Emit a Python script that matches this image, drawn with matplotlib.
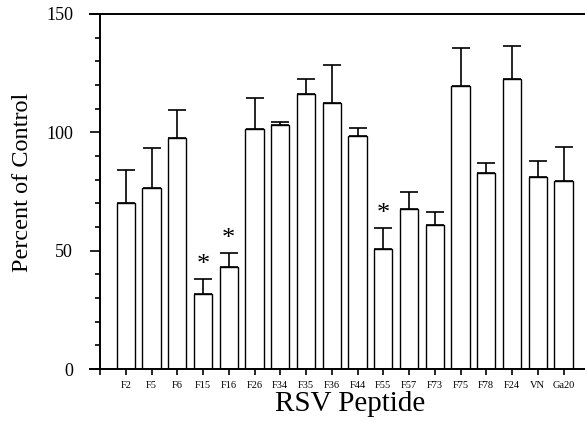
import matplotlib
matplotlib.use("Agg")
import matplotlib.pyplot as plt
from matplotlib.ticker import MultipleLocator

peptides = ["F2", "F5", "F6", "F15", "F16", "F26", "F34", "F35", "F36", "F44",
            "F55", "F57", "F73", "F75", "F78", "F24", "VN", "Ga20"]
percent = [70, 76.5, 97.5, 31.5, 43, 101.5, 103, 116, 112.5, 98.5,
           50.5, 67.5, 61, 119.5, 83, 122.5, 81, 79.5]
sem = [14, 17, 12, 6.5, 6, 13, 1.5, 6.5, 16, 3.5,
       9, 7.5, 5.5, 16, 4, 14, 7, 14.5]
significant = ["F15", "F16", "F55"]

plt.rcParams["font.family"] = ["Liberation Serif", "DejaVu Serif"]

fig = plt.figure(figsize=(5.85, 4.22), dpi=100)
ax = fig.add_axes([90 / 585, 1 - 369 / 422, 495 / 585, 355 / 422])

xpos = list(range(1, len(peptides) + 1))
ax.bar(xpos, percent, width=0.7, color="white", edgecolor="black", linewidth=1.0,
       yerr=[[0] * len(sem), sem], capsize=6.5,
       error_kw={"elinewidth": 1.2, "capthick": 1.2, "ecolor": "black"})

# asterisks over the significant ones
for name in significant:
    i = peptides.index(name)
    ax.text(xpos[i], percent[i] + sem[i] + 6, "*", ha="center", va="center", fontsize=19)

ax.set_xlim(-10 / 25.75, 485 / 25.75)
ax.set_ylim(0, 150)

ax.spines["right"].set_visible(False)
ax.spines["left"].set_position(("data", 0))
for s in ["left", "bottom", "top"]:
    ax.spines[s].set_linewidth(1.4)

ax.set_xticks([0] + xpos)
ax.set_xticklabels([""] + peptides, fontsize=7.5)
ax.tick_params(axis="x", direction="out", length=4.5, width=1.2, pad=4)

ax.yaxis.set_major_locator(MultipleLocator(50))
ax.yaxis.set_minor_locator(MultipleLocator(10))
ax.tick_params(axis="y", which="major", direction="out", length=7.5, width=1.2,
               pad=12, labelsize=13)
ax.tick_params(axis="y", which="minor", direction="out", length=3.8, width=1.2)

ax.set_xlabel("RSV Peptide", fontsize=21)
ax.xaxis.set_label_coords(0.525, -0.062)
ax.set_ylabel("Percent of Control", fontsize=17.5)
ax.yaxis.set_label_coords(-0.115, 0.527)

fig.savefig("out.png", dpi=100)
